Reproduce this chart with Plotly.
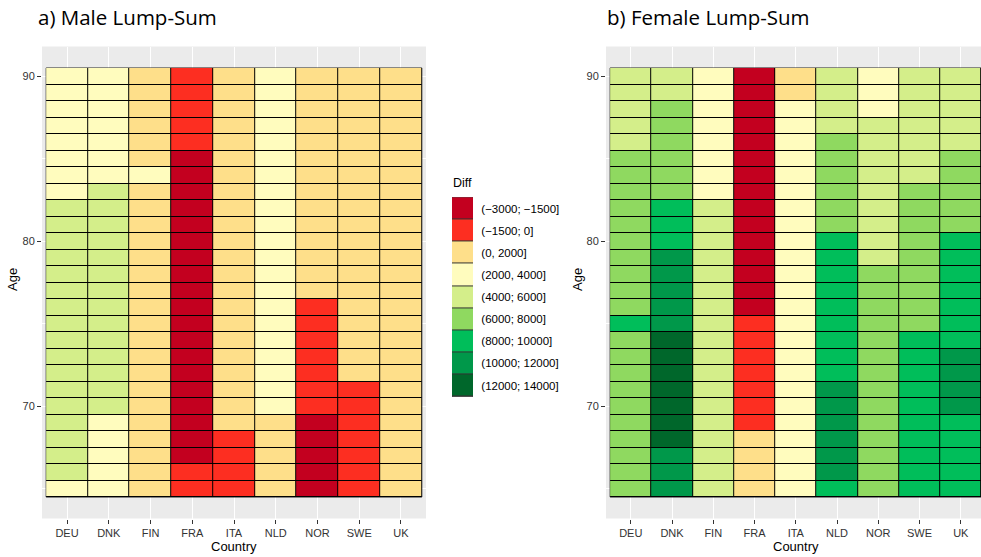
import plotly.graph_objects as go

# ---------------- data ----------------
countries = ["DEU", "DNK", "FIN", "FRA", "ITA", "NLD", "NOR", "SWE", "UK"]
ages = [65, 66, 67, 68, 69, 70, 71, 72, 73, 74, 75, 76, 77, 78, 79, 80,
        81, 82, 83, 84, 85, 86, 87, 88, 89, 90]

# legend categories (index 1..9)
cat_labels = ["(\u22123000; \u22121500]", "(\u22121500; 0]", "(0, 2000]", "(2000, 4000]",
              "(4000; 6000]", "(6000; 8000]", "(8000; 10000]", "(10000; 12000]",
              "(12000; 14000]"]
cat_colors = ["#C3001F", "#FD2E21", "#FEDF8A", "#FFFCBE", "#D4EE8A",
              "#8FD960", "#00BE5A", "#00984A", "#00672B"]

# category index per age (65 -> 90), male
male_deu = [4, 5, 5, 5, 5, 5, 5, 5, 5, 5, 5, 5, 5, 5, 5, 5, 5, 5, 4, 4, 4, 4, 4, 4, 4, 4]
male_dnk = [4, 4, 4, 4, 4, 5, 5, 5, 5, 5, 5, 5, 5, 5, 5, 5, 5, 5, 5, 4, 4, 4, 4, 4, 4, 4]
male_fin = [3, 3, 3, 3, 3, 3, 3, 3, 3, 3, 3, 3, 3, 3, 3, 3, 3, 3, 3, 4, 3, 3, 3, 3, 3, 3]
male_fra = [2, 2, 1, 1, 1, 1, 1, 1, 1, 1, 1, 1, 1, 1, 1, 1, 1, 1, 1, 1, 1, 2, 2, 2, 2, 2]
male_ita = [2, 2, 2, 2, 3, 3, 3, 3, 3, 3, 3, 3, 3, 3, 3, 3, 3, 3, 3, 3, 3, 3, 3, 3, 3, 3]
male_nld = [3, 3, 3, 3, 3, 4, 4, 4, 4, 4, 4, 4, 4, 4, 4, 4, 4, 4, 4, 4, 4, 4, 4, 4, 4, 4]
male_nor = [1, 1, 1, 1, 1, 2, 2, 2, 2, 2, 2, 2, 3, 3, 3, 3, 3, 3, 3, 3, 3, 3, 3, 3, 3, 3]
male_swe = [2, 2, 2, 2, 2, 2, 2, 3, 3, 3, 3, 3, 3, 3, 3, 3, 3, 3, 3, 3, 3, 3, 3, 3, 3, 3]
male_uk = [3, 3, 3, 3, 3, 3, 3, 3, 3, 3, 3, 3, 3, 3, 3, 3, 3, 3, 3, 3, 3, 3, 3, 3, 3, 3]

# female
female_deu = [6, 6, 6, 6, 6, 6, 6, 6, 6, 6, 7, 6, 6, 6, 6, 6, 6, 6, 6, 6, 6, 5, 5, 5, 5, 5]
female_dnk = [8, 8, 8, 9, 9, 9, 9, 9, 9, 9, 8, 8, 8, 8, 8, 7, 7, 7, 6, 6, 6, 6, 6, 6, 5, 5]
female_fin = [5, 5, 5, 5, 5, 5, 5, 5, 5, 5, 5, 5, 5, 5, 5, 5, 5, 5, 4, 4, 4, 4, 4, 4, 4, 4]
female_fra = [3, 3, 3, 3, 2, 2, 2, 2, 2, 2, 2, 1, 1, 1, 1, 1, 1, 1, 1, 1, 1, 1, 1, 1, 1, 1]
female_ita = [4, 4, 4, 4, 4, 4, 4, 4, 4, 4, 4, 4, 4, 4, 4, 4, 4, 4, 4, 4, 4, 4, 4, 4, 3, 3]
female_nld = [7, 8, 8, 8, 8, 8, 8, 7, 7, 7, 7, 7, 7, 7, 7, 7, 6, 6, 6, 6, 6, 6, 5, 5, 5, 5]
female_nor = [6, 6, 6, 6, 6, 6, 6, 6, 6, 6, 6, 6, 6, 6, 5, 5, 5, 5, 5, 5, 5, 5, 5, 4, 4, 4]
female_swe = [7, 7, 7, 7, 7, 7, 7, 7, 7, 7, 6, 6, 6, 6, 6, 6, 6, 6, 6, 5, 5, 5, 5, 5, 5, 5]
female_uk = [7, 7, 7, 7, 7, 8, 8, 8, 8, 7, 7, 7, 7, 7, 7, 7, 6, 6, 6, 6, 6, 5, 5, 5, 5, 5]

male_cols = [male_deu, male_dnk, male_fin, male_fra, male_ita, male_nld, male_nor, male_swe, male_uk]
female_cols = [female_deu, female_dnk, female_fin, female_fra, female_ita, female_nld,
               female_nor, female_swe, female_uk]

titles = ["a) Male Lump-Sum", "b) Female Lump-Sum"]

# ---------------- layout helpers ----------------
W, H = 981, 557
def px_x(p):
    return p / W
def px_y(p):
    return 1 - p / H

n = len(cat_colors)
colorscale = []
for k, c in enumerate(cat_colors):
    colorscale.append([k / n, c])
    colorscale.append([(k + 1) / n, c])

def to_z(cols):
    return [[cols[j][i] for j in range(len(countries))] for i in range(len(ages))]

fig = go.Figure()

for idx, (cols, xa, ya) in enumerate([(male_cols, "x", "y"), (female_cols, "x2", "y2")]):
    fig.add_trace(go.Heatmap(
        z=to_z(cols), x=countries, y=ages,
        colorscale=colorscale, zmin=0.5, zmax=n + 0.5, showscale=False,
        xgap=1, ygap=1, xaxis=xa, yaxis=ya, hoverinfo="skip"))
    fig.add_shape(type="rect", xref=xa, yref=ya,
                  x0=-0.5, x1=len(countries) - 0.5,
                  y0=min(ages) - 0.5, y1=max(ages) + 0.5,
                  fillcolor="#000000", line=dict(width=0.8, color="#000000"),
                  layer="between")

# legend as a small heatmap
leg_vals = [[k + 1] for k in range(n)]
fig.add_trace(go.Heatmap(
    z=leg_vals, x=[0], y=cat_labels,
    colorscale=colorscale, zmin=0.5, zmax=n + 0.5, showscale=False,
    ygap=1, xaxis="x3", yaxis="y3", hoverinfo="skip"))
fig.add_shape(type="rect", xref="x3", yref="y3", x0=-0.5, x1=0.5,
              y0=-0.5, y1=n - 0.5, fillcolor="#333333",
              line=dict(width=0.8, color="#333333"), layer="between")

tick_font = dict(family="Liberation Sans, Arial, sans-serif", size=11, color="#333333")
ydom = [px_y(518.5), px_y(46.5)]
y_common = dict(domain=ydom, range=[63.2, 91.8], tickvals=[70, 80, 90],
                ticks="outside", ticklen=4, tickcolor="#333333", tickwidth=1,
                tickfont=tick_font, showgrid=True, gridcolor="#FFFFFF", gridwidth=1,
                minor=dict(tickvals=[65, 75, 85], showgrid=True, gridcolor="#FFFFFF",
                           gridwidth=0.5, ticks=""),
                zeroline=False, showline=False, fixedrange=True)
x_common = dict(type="category", ticks="outside", ticklen=4, tickcolor="#333333",
                tickwidth=1, tickfont=tick_font, showgrid=True, gridcolor="#FFFFFF",
                gridwidth=1, zeroline=False, showline=False, fixedrange=True)

fig.update_layout(
    width=W, height=H, margin=dict(l=0, r=0, t=0, b=0),
    paper_bgcolor="#FFFFFF", plot_bgcolor="#EBEBEB",
    showlegend=False,
    xaxis=dict(domain=[px_x(42), px_x(426)], range=[-0.6, 8.6], anchor="y", **x_common),
    yaxis=dict(anchor="x", **y_common),
    xaxis2=dict(domain=[px_x(606), 1.0], range=[-0.6, 8.49], anchor="y2", **x_common),
    yaxis2=dict(anchor="x2", **y_common),
    xaxis3=dict(domain=[px_x(452), px_x(473)], range=[-0.5, 0.5], anchor="y3",
                showticklabels=False, showgrid=False, zeroline=False, ticks="",
                fixedrange=True),
    yaxis3=dict(domain=[px_y(397), px_y(197)], type="category", autorange="reversed",
                anchor="x3", side="right", showgrid=False, zeroline=False,
                ticks="outside", ticklen=5, tickcolor="rgba(0,0,0,0)",
                tickfont=dict(family="Liberation Sans, Arial, sans-serif", size=11.5,
                              color="#000000"), fixedrange=True),
)

# subplot titles
ann_font_title = dict(family="Open Sans, Noto Sans, sans-serif", size=20.5, color="#000000")
axis_title_font = dict(family="Liberation Sans, Arial, sans-serif", size=13, color="#000000")
fig.add_annotation(text=titles[0], xref="paper", yref="paper", x=px_x(36), y=px_y(17),
                   xanchor="left", yanchor="middle", showarrow=False, font=ann_font_title)
fig.add_annotation(text=titles[1], xref="paper", yref="paper", x=px_x(605), y=px_y(17),
                   xanchor="left", yanchor="middle", showarrow=False, font=ann_font_title)
# axis titles
for cx in (234, 795.5):
    fig.add_annotation(text="Country", xref="paper", yref="paper", x=px_x(cx), y=px_y(546),
                       xanchor="center", yanchor="middle", showarrow=False, font=axis_title_font)
for cx in (12, 577):
    fig.add_annotation(text="Age", xref="paper", yref="paper", x=px_x(cx), y=px_y(280),
                       xanchor="center", yanchor="middle", showarrow=False, textangle=-90,
                       font=axis_title_font)
# legend title
fig.add_annotation(text="Diff", xref="paper", yref="paper", x=px_x(451), y=px_y(183),
                   xanchor="left", yanchor="middle", showarrow=False,
                   font=dict(family="Liberation Sans, Arial, sans-serif", size=12.5, color="#000000"))

fig.write_html("out.html", config={"displayModeBar": False},
               post_script="document.body.style.margin='0';document.body.style.overflow='hidden';")
